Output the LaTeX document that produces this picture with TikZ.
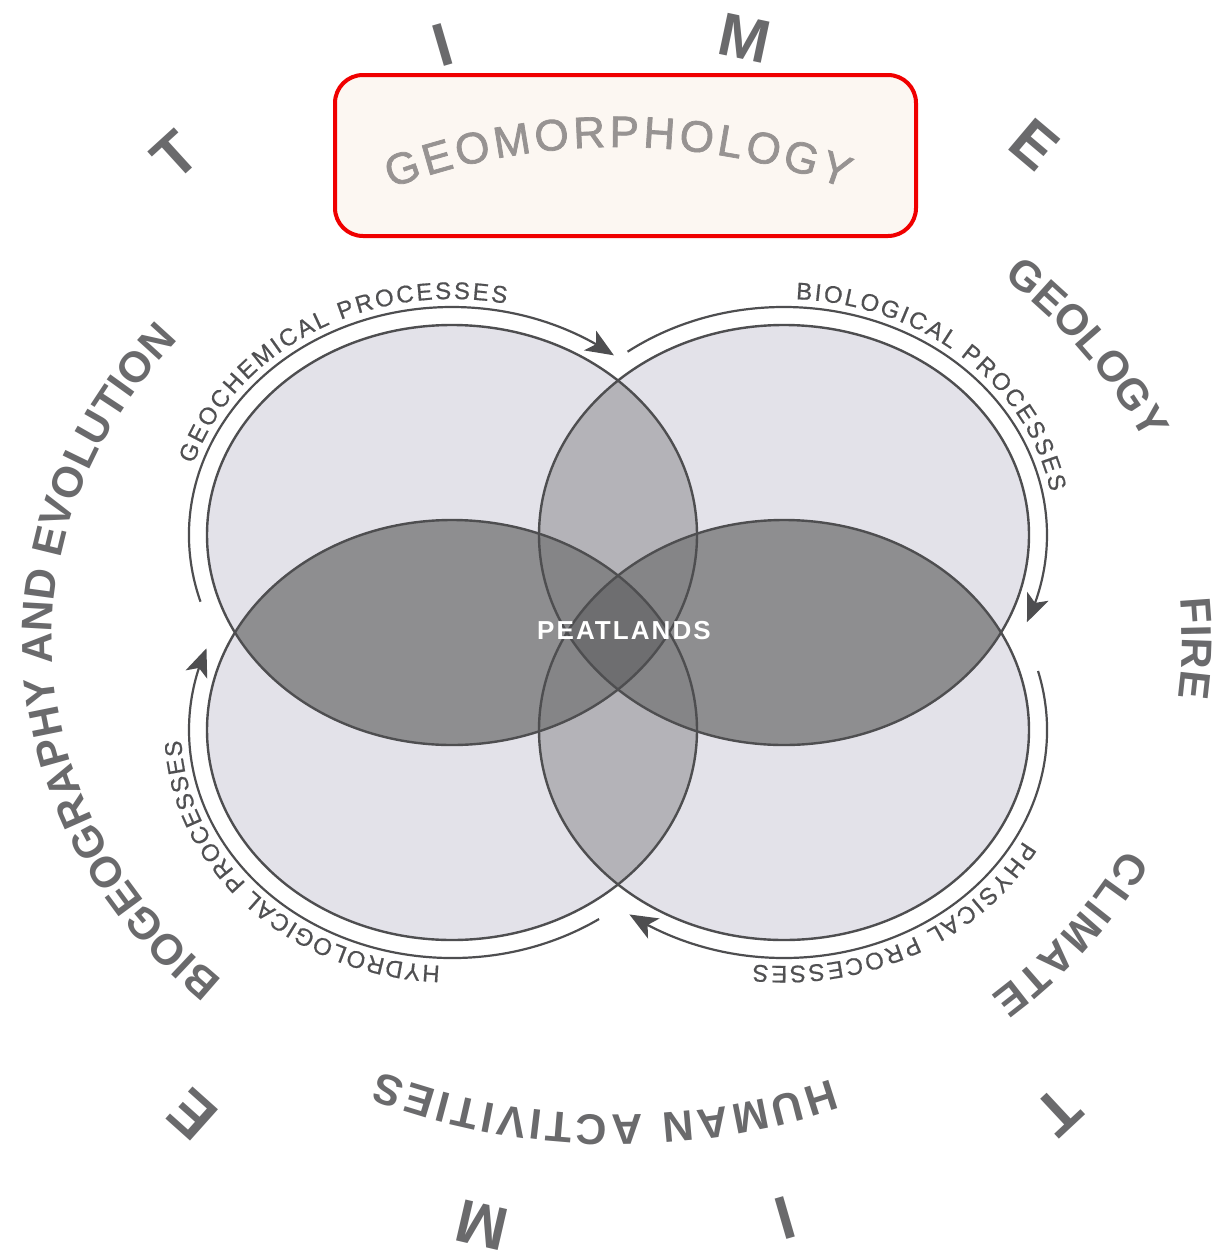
\documentclass[tikz,border=0pt]{standalone}
\usepackage{fontspec}
\setmainfont{Liberation Sans}
\usetikzlibrary{decorations.text,arrows.meta,bending,calc}
\definecolor{ringgray}{HTML}{6A6A6C}
\definecolor{procgray}{HTML}{505052}
\definecolor{lineg}{HTML}{4E4E50}
\definecolor{lightf}{HTML}{E3E2E9}
\definecolor{mediumf}{HTML}{B4B3B8}
\definecolor{darkf}{HTML}{8E8E90}
\definecolor{darkthree}{HTML}{858587}
\definecolor{darkest}{HTML}{6E6E70}
\definecolor{boxfill}{HTML}{FCF7F2}
\definecolor{boxred}{HTML}{F00000}
\definecolor{geomgray}{HTML}{979392}
\newcommand{\ringfont}{\fontsize{43}{43}\selectfont\bfseries}
\newcommand{\procfont}{\fontsize{24}{24}\selectfont\addfontfeature{FakeBold=0.6}}
\newcommand{\geomfont}{\fontsize{44}{44}\selectfont\addfontfeature{FakeBold=1.6}}
\newcommand{\timefont}{\fontsize{61}{61}\selectfont\bfseries}
\newcommand{\peatfont}{\fontsize{26}{26}\selectfont\bfseries\addfontfeature{LetterSpace=8}}
\begin{document}
\begin{tikzpicture}[x=1pt,y=1pt,
  ellr/.style={x radius=245, y radius=210},
  outline/.style={draw=lineg, line width=2.4pt},
  procarc/.style={draw=lineg, line width=2.2pt},
  tipped/.style={-{Stealth[length=28pt,width=23pt,inset=7pt]}},
  timeletter/.style={font=\timefont, text=ringgray, inner sep=0pt},
  ringtext/.style={decorate, decoration={text along path, text={|\ringfont|#1}, text align={fit to path}, text color=ringgray}},
  proctext/.style={decorate, decoration={text along path, text={|\procfont|#1}, text align={fit to path}, text color=procgray}},
  geomtext/.style={decorate, decoration={text along path, text={|\geomfont|#1}, text align={fit to path}, text color=geomgray}}
]
\useasboundingbox (0,0) rectangle (1223,-1256);
\fill[white] (0,0) rectangle (1223,-1256);

\coordinate (TL) at (452,-535);
\coordinate (TR) at (784,-535);
\coordinate (BL) at (452,-730);
\coordinate (BR) at (784,-730);
\coordinate (RC) at (617,-640);
\coordinate (GC) at (618,-792);

% Geomorphology box
\node[draw=boxred, line width=4pt, fill=boxfill, rounded corners=28pt,
      minimum width=581pt, minimum height=161pt, inner sep=0pt] (geobox) at (625.5,-155.5) {};
\path[geomtext={GEOMORPHOLOGY}] ($(GC)+(110.6:645)$) arc[start angle=110.6, end angle=69.4, radius=645];

% ellipse fills
\fill[lightf] (TL) ellipse[ellr];
\fill[lightf] (TR) ellipse[ellr];
\fill[lightf] (BL) ellipse[ellr];
\fill[lightf] (BR) ellipse[ellr];
% horizontal lenses
\begin{scope}\clip (TL) ellipse[ellr]; \fill[mediumf] (TR) ellipse[ellr]; \end{scope}
\begin{scope}\clip (BL) ellipse[ellr]; \fill[mediumf] (BR) ellipse[ellr]; \end{scope}
% vertical lenses
\begin{scope}\clip (TL) ellipse[ellr]; \fill[darkf] (BL) ellipse[ellr]; \end{scope}
\begin{scope}\clip (TR) ellipse[ellr]; \fill[darkf] (BR) ellipse[ellr]; \end{scope}
% triple overlaps
\begin{scope}\clip (TL) ellipse[ellr]; \clip (BL) ellipse[ellr];
  \fill[darkthree] (TR) ellipse[ellr]; \fill[darkthree] (BR) ellipse[ellr]; \end{scope}
\begin{scope}\clip (TR) ellipse[ellr]; \clip (BR) ellipse[ellr];
  \fill[darkthree] (TL) ellipse[ellr]; \fill[darkthree] (BL) ellipse[ellr]; \end{scope}
% quadruple overlap
\begin{scope}\clip (TL) ellipse[ellr]; \clip (TR) ellipse[ellr]; \clip (BL) ellipse[ellr];
  \fill[darkest] (BR) ellipse[ellr]; \end{scope}
% outlines
\draw[outline] (TL) ellipse[ellr];
\draw[outline] (TR) ellipse[ellr];
\draw[outline] (BL) ellipse[ellr];
\draw[outline] (BR) ellipse[ellr];

\node[font=\peatfont, text=white, inner sep=0pt] (peat) at (624,-631) {PEATLANDS};

% process arcs
\draw[procarc, tipped] ($(TL)+(197:263 and 228)$) arc[start angle=197, end angle=52, x radius=263, y radius=228];
\draw[procarc, tipped] ($(TR)+(126.5:263 and 228)$) arc[start angle=126.5, end angle=-22.5, x radius=263, y radius=228];
\draw[procarc, tipped] ($(BL)+(-56:263 and 228)$) arc[start angle=-56, end angle=-201, x radius=263, y radius=228];
\draw[procarc, tipped] ($(BR)+(15:263 and 228)$) arc[start angle=15, end angle=-126, x radius=263, y radius=228];

% process labels
\path[proctext={GEOCHEMICAL PROCESSES}] ($(TL)+(162.5:271 and 236)$) arc[start angle=162.5, end angle=78.5, x radius=271, y radius=236];
\path[proctext={BIOLOGICAL PROCESSES}] ($(TR)+(87.5:271 and 236)$) arc[start angle=87.5, end angle=10.5, x radius=271, y radius=236];
\path[proctext={HYDROLOGICAL PROCESSES}] ($(BL)+(-92.5:271 and 236)$) arc[start angle=-92.5, end angle=-177.5, x radius=271, y radius=236];
\path[proctext={PHYSICAL PROCESSES}] ($(BR)+(-28:271 and 236)$) arc[start angle=-28, end angle=-96.5, x radius=271, y radius=236];

% ring labels
\path[ringtext={GEOLOGY}] ($(RC)+(48:577 and 487)$) arc[start angle=48, end angle=24, x radius=577, y radius=487];
\path[ringtext={FIRE}] ($(RC)+(5:565 and 475)$) arc[start angle=5, end angle=-7, x radius=565, y radius=475];
\path[ringtext={CLIMATE}] ($(RC)+(-26:565 and 475)$) arc[start angle=-26, end angle=-48.6, x radius=565, y radius=475];
\path[ringtext={HUMAN ACTIVITIES}] ($(RC)+(-67.7:565 and 475)$) arc[start angle=-67.7, end angle=-114.8, x radius=565, y radius=475];
\path[ringtext={BIOGEOGRAPHY AND EVOLUTION}] ($(RC)+(225.7:565 and 475)$) arc[start angle=225.7, end angle=140.9, x radius=565, y radius=475];

% TIME letters
\node[timeletter, rotate=42.3] (t1) at (175,-155) {T};
\node[timeletter, rotate=16.3] (i1) at (443,-45) {I};
\node[timeletter, rotate=-12] (m1) at (745,-38) {M};
\node[timeletter, rotate=-40.2] (e1) at (1035,-145) {E};
\node[timeletter, rotate=223] (t2) at (1058,-1112) {T};
\node[timeletter, rotate=196.2] (i2) at (785,-1218) {I};
\node[timeletter, rotate=167] (m2) at (482,-1225) {M};
\node[timeletter, rotate=138.2] (e2) at (192,-1115) {E};
\end{tikzpicture}
\end{document}
